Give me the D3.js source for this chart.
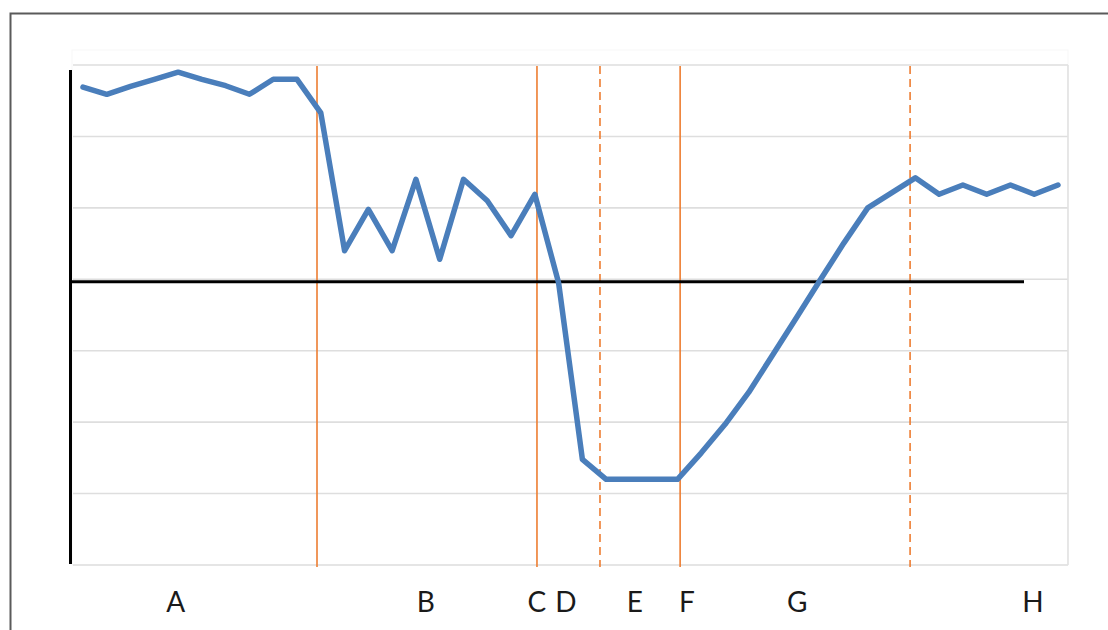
<!DOCTYPE html>
<html>
<head>
<meta charset="utf-8">
<script src="https://cdn.jsdelivr.net/npm/d3@7"></script>
<style>
  html, body { margin: 0; padding: 0; background: #fff; }
  svg { display: block; }
</style>
</head>
<body>
<svg id="chart" width="1108" height="630"></svg>
<script>
// ---- data ----
const seriesValues = [
  2.69, 2.59, 2.70, 2.80, 2.90, 2.80, 2.71, 2.59, 2.80, 2.80,
  2.33, 0.40, 0.98, 0.40, 1.40, 0.28, 1.40, 1.10, 0.61, 1.19,
  -0.05, -2.52, -2.80, -2.80, -2.80, -2.80, -2.43, -2.03, -1.58, -1.06,
  -0.54, -0.01, 0.51, 1.00, 1.21, 1.42, 1.19, 1.32, 1.19, 1.32,
  1.19, 1.32
];
const gridValues = [-4, -3, -2, -1, 0, 1, 2, 3];
const markerPositions = [9.84, 19.09, 21.74, 25.11, 34.78];
const markerDashed = [false, false, true, false, true];
const phaseLabels = ["A", "B", "C", "D", "E", "F", "G", "H"];
const phaseLabelPositions = [3.90, 14.42, 19.09, 20.31, 23.21, 25.40, 30.03, 39.95];

// ---- layout ----
const svg = d3.select("#chart");
const plotLeft = 73, plotRight = 1068, plotTop = 65, plotBottom = 565;

const x = d3.scaleLinear().domain([0, seriesValues.length - 1]).range([83, 1058]);
const y = d3.scaleLinear().domain([-4, 3]).range([plotBottom, plotTop]);

// outer frame
svg.append("rect")
  .attr("x", 10.5).attr("y", 13.5)
  .attr("width", 1200).attr("height", 700)
  .attr("fill", "none").attr("stroke", "#5a5a5a").attr("stroke-width", 2);

// faint plot area
svg.append("rect")
  .attr("x", 72).attr("y", 50)
  .attr("width", plotRight - 72).attr("height", plotBottom - 50)
  .attr("fill", "none").attr("stroke", "#f7f7f7").attr("stroke-width", 1);

// gridlines
svg.append("g").selectAll("line").data(gridValues).join("line")
  .attr("x1", plotLeft).attr("x2", plotRight)
  .attr("y1", d => y(d)).attr("y2", d => y(d))
  .attr("stroke", "#dedede").attr("stroke-width", 1.6);

// right plot border
svg.append("line")
  .attr("x1", plotRight).attr("x2", plotRight)
  .attr("y1", plotTop).attr("y2", plotBottom)
  .attr("stroke", "#e2e2e2").attr("stroke-width", 1.6);

// phase separator lines
svg.append("g").selectAll("line").data(markerPositions).join("line")
  .attr("x1", d => x(d)).attr("x2", d => x(d))
  .attr("y1", plotTop + 1).attr("y2", plotBottom + 2)
  .attr("stroke", "#ed7d31").attr("stroke-width", 1.6)
  .attr("stroke-dasharray", (d, i) => markerDashed[i] ? "8,5" : null);

// black zero line
svg.append("line")
  .attr("x1", 69).attr("x2", 1024)
  .attr("y1", y(0) + 2.5).attr("y2", y(0) + 2.5)
  .attr("stroke", "#000").attr("stroke-width", 3);

// black left axis
svg.append("line")
  .attr("x1", 70.5).attr("x2", 70.5)
  .attr("y1", 70).attr("y2", 564)
  .attr("stroke", "#000").attr("stroke-width", 3);

// series line
const line = d3.line().x((d, i) => x(i)).y(d => y(d));
svg.append("path")
  .datum(seriesValues)
  .attr("d", line)
  .attr("fill", "none")
  .attr("stroke", "#4a7ebb")
  .attr("stroke-width", 5.5)
  .attr("stroke-linejoin", "round")
  .attr("stroke-linecap", "round");

// phase labels
svg.append("g").selectAll("text").data(phaseLabels).join("text")
  .attr("x", (d, i) => x(phaseLabelPositions[i]))
  .attr("y", 612)
  .attr("text-anchor", "middle")
  .attr("font-family", "Lato, 'Open Sans', sans-serif")
  .attr("font-size", 28)
  .attr("fill", "#1a1a1a")
  .text(d => d);
</script>
</body>
</html>
